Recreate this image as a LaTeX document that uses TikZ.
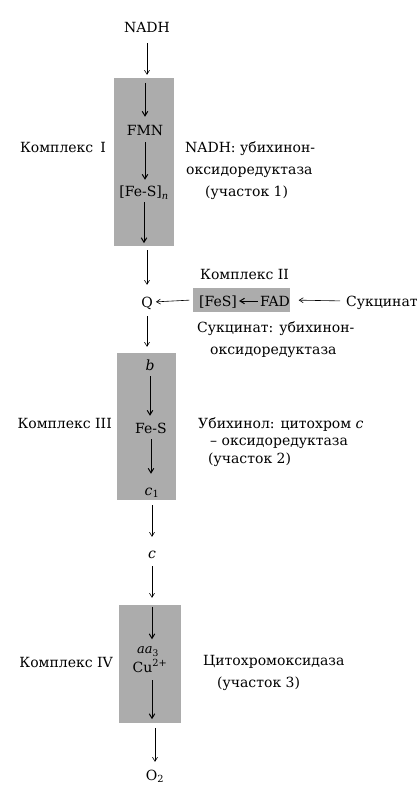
\documentclass[tikz,border=0pt]{standalone}
\usepackage{fontspec}
\setmainfont{DejaVu Serif}
\usetikzlibrary{arrows.meta}
\definecolor{boxgray}{RGB}{172,172,172}
\begin{document}
\begin{tikzpicture}[x=1pt,y=-1pt,
  txt/.style={inner sep=0pt, text height=10pt, text depth=0pt, font=\fontsize{14}{16}\selectfont},
  small/.style={inner sep=0pt, text height=7pt, text depth=0pt, font=\fontsize{13}{15}\selectfont},
  box/.style={fill=boxgray, draw=none, inner sep=0pt},
  arr/.style={-{Straight Barb[length=4pt,width=5pt]}, line width=0.6pt},
  iarr/.style={-{Straight Barb[length=4.5pt,width=5.5pt]}, line width=1pt}]
\useasboundingbox (0,0) rectangle (418,791);
% boxes
\node[box, minimum width=60pt, minimum height=168pt] (b1) at (144,162) {};
\node[box, minimum width=97pt, minimum height=24pt] (b2) at (241,300) {};
\node[box, minimum width=59pt, minimum height=147pt] (b3) at (146.5,426.5) {};
\node[box, minimum width=62pt, minimum height=118pt] (b4) at (150,664) {};
% chain
\node[txt] (nadh) at (147,28) {NADH};
\node[txt] (fmn) at (145,131) {FMN};
\node[txt] (fes1) at (144,192) {[Fe-S]\textsubscript{\itshape n}};
\node[txt] (q) at (147,302) {Q};
\node[txt] (cb) at (150,365) {\itshape b};
\node[txt] (fes3) at (151,428) {Fe-S};
\node[txt] (c1) at (152,490) {\itshape c\textsubscript{\upshape 1}};
\node[txt] (c) at (152,553) {\itshape c};
\node[small] (aa) at (148,650) {\itshape aa\textsubscript{\upshape 3}};
\node[txt] (cu) at (150,667) {Cu\textsuperscript{2+}};
\node[txt] (o2) at (155,775) {O\textsubscript{2}};
% complex II contents
\node[txt] (fes2) at (218,301) {[FeS]};
\node[txt] (fad) at (275,301) {FAD};
\node[txt, anchor=west] (succ) at (346,301) {Сукцинат};
% labels
\node[txt, anchor=east] (k1) at (106,148) {Комплекс\hspace{0.5em}I};
\node[txt, anchor=west] (n1a) at (185,148) {NADH: убихинон-};
\node[txt, anchor=west] (n1b) at (186,170) {оксидоредуктаза};
\node[txt, anchor=west] (n1c) at (205,192) {(участок 1)};
\node[txt, anchor=west] (k2) at (200,274) {Комплекс II};
\node[txt, anchor=west] (n2a) at (197,327) {Сукцинат: убихинон-};
\node[txt, anchor=west] (n2b) at (210,349) {оксидоредуктаза};
\node[txt, anchor=east] (k3) at (112,423) {Комплекс III};
\node[txt, anchor=west] (n3a) at (198,423) {Убихинол: цитохром \textit{c}};
\node[txt, anchor=west] (n3b) at (210,440) {– оксидоредуктаза};
\node[txt, anchor=west] (n3c) at (208,458) {(участок 2)};
\node[txt, anchor=east] (k4) at (113,662) {Комплекс IV};
\node[txt, anchor=west] (n4a) at (203,660) {Цитохромоксидаза};
\node[txt, anchor=west] (n4b) at (217,682) {(участок 3)};
% arrows
\draw[arr, shorten <=10pt, shorten >=3pt] (nadh.south) -- (nadh.south |- b1.north);
\draw[iarr, shorten <=5pt, shorten >=9pt] (b1.north -| fmn) -- (fmn.north);
\draw[iarr, shorten <=6pt, shorten >=7pt] (fmn.south) -- (fmn.south |- fes1.north);
\draw[iarr, shorten <=5pt, shorten >=3pt] (fes1.south) -- (fes1.south |- b1.south);
\draw[arr, shorten <=4pt, shorten >=12pt] (b1.south -| q) -- (q.north);
\draw[arr, shorten <=9pt, shorten >=6pt] (q.south) -- (q.south |- b3.north);
\draw[iarr, shorten <=6pt, shorten >=7pt] (cb.south) -- (cb.south |- fes3.north);
\draw[iarr, shorten <=6pt, shorten >=11pt] (fes3.south) -- (fes3.south |- c1.north);
\draw[arr, shorten <=5pt, shorten >=11pt] (b3.south -| c) -- (c.north);
\draw[arr, shorten <=8pt, shorten >=7pt] (c.south) -- (c.south |- b4.north);
\draw[iarr, shorten <=2pt, shorten >=7pt] (b4.north -| c) -- (aa.north -| c);
\draw[iarr, shorten <=8pt, shorten >=4pt] (cu.south -| c) -- (b4.south -| c);
\draw[arr, shorten <=5pt, shorten >=8pt] (b4.south -| o2) -- (o2.north);
\draw[arr, shorten <=3pt, shorten >=3pt] (b2.west) -- (q.east);
\draw[iarr, shorten <=2pt, shorten >=2pt] (fad.west) -- (fes2.east);
\draw[arr, shorten <=6pt, shorten >=9pt] (succ.west) -- (b2.east);
\end{tikzpicture}
\end{document}
